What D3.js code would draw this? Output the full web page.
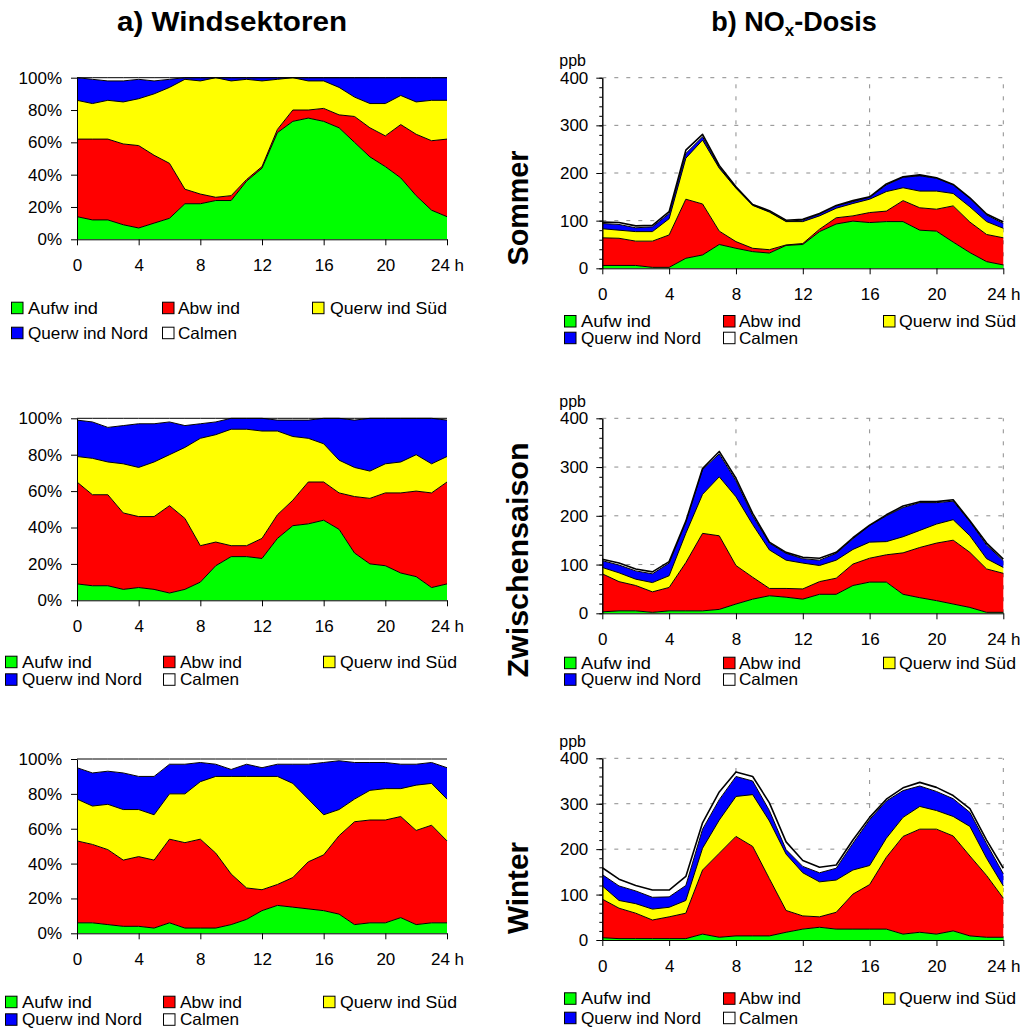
<!DOCTYPE html>
<html>
<head>
<meta charset="utf-8">
<script src="https://cdn.jsdelivr.net/npm/d3@7"></script>
<style>
  body { margin: 0; background: #fff; }
  svg { display: block; }
</style>
</head>
<body>
<svg id="chart" width="1032" height="1028"></svg>
<script>
// ---- categories and labels ----
const hours = [0,1,2,3,4,5,6,7,8,9,10,11,12,13,14,15,16,17,18,19,20,21,22,23,24];
const hourTicks = [0,4,8,12,16,20,24];
const pctTicks = [0,0.2,0.4,0.6,0.8,1];
const ppbTicks = [0,100,200,300,400];
const ppbMinorTicks = [0,20,40,60,80,100,120,140,160,180,200,220,240,260,280,300,320,340,360,380,400];
const seriesNames = ["Aufw ind","Abw ind","Querw ind Süd","Querw ind Nord","Calmen"];
const seriesColors = ["#00ff00","#ff0000","#ffff00","#0000ff","#ffffff"];
const seasonNames = ["Sommer","Zwischensaison","Winter"];

// ---- a) wind sector shares (%) ----
const windSommerAuf    = [14,12,12,9,7,10,13,22,22,24,24,36,44,66,73,75,73,69,60,51,45,38,27,18,14];
const windSommerAbw    = [48,50,50,50,51,42,34,9,6,2,3,1,1,2,7,5,8,8,16,18,19,33,38,43,48];
const windSommerSued   = [24,22,24,26,29,38,47,68,70,74,71,62,53,31,20,18,17,17,12,15,20,18,20,25,24];
const windSommerNord   = [14,15,12,13,12,8,5,1,2,0,2,1,2,1,0,2,2,6,12,16,16,11,15,14,14];
const windSommerCalm   = [0,1,2,2,1,2,1,0,0,0,0,0,0,0,0,0,0,0,0,0,0,0,0,0,0];

const windZwAuf        = [9,8,8,6,7,6,4,6,10,19,24,24,23,34,41,42,44,39,26,20,19,15,13,7,9];
const windZwAbw        = [56,50,50,42,39,40,48,39,20,13,6,6,11,13,14,23,21,20,31,36,40,44,47,52,56];
const windZwSued       = [14,20,18,27,27,30,28,39,59,59,64,64,59,46,35,24,21,18,16,15,16,17,20,16,14];
const windZwNord       = [20,20,19,21,24,21,18,12,8,7,6,6,7,6,9,10,14,23,26,29,25,24,20,25,20];
const windZwCalm       = [1,2,5,4,3,3,2,4,3,2,0,0,0,1,1,1,0,0,1,0,0,0,0,0,1];

const windWinterAuf    = [6,6,5,4,4,3,6,3,3,3,5,8,13,16,15,14,13,11,5,6,6,9,5,6,6];
const windWinterAbw    = [47,45,43,38,40,39,48,49,51,43,29,18,12,12,17,27,32,45,59,59,59,58,54,56,47];
const windWinterSued   = [24,22,26,29,27,26,26,28,33,44,56,64,65,62,54,36,23,15,13,17,18,16,26,24,24];
const windWinterNord   = [18,19,19,21,19,22,17,17,11,7,4,7,5,7,11,20,30,28,21,16,15,14,12,12,18];
const windWinterCalm   = [5,8,7,8,10,10,3,3,2,3,6,3,5,3,3,3,2,1,2,2,2,3,3,2,5];

// ---- b) NOx dose per wind sector (ppb) ----
const noxSommerAuf     = [6,6,6,2,2,21,28,50,42,35,32,48,50,77,93,99,96,98,98,80,78,55,33,14,7];
const noxSommerAbw     = [58,57,51,55,68,124,107,28,14,7,7,1,2,5,13,11,21,22,44,47,46,76,64,57,57];
const noxSommerSued    = [19,17,20,20,34,86,134,132,112,90,79,49,46,28,20,26,28,41,27,35,38,26,32,27,20];
const noxSommerNord    = [11,12,8,10,11,10,7,3,1,1,1,1,3,4,5,4,4,14,22,32,27,18,18,14,10];
const noxSommerCalm    = [3,4,4,3,4,7,5,3,2,1,2,2,2,1,1,2,1,2,1,2,1,1,1,2,3];

const noxZwAuf         = [3,5,5,2,5,5,5,8,19,29,36,33,29,39,39,57,64,64,39,32,26,19,12,2,2];
const noxZwAbw         = [78,60,52,42,48,99,159,151,79,45,15,18,21,26,33,44,49,56,85,103,118,131,113,89,80];
const noxZwSued        = [13,18,13,19,24,60,80,121,141,108,79,58,53,33,37,30,33,27,33,35,39,42,34,21,12];
const noxZwNord        = [14,16,17,18,26,23,51,47,33,18,14,14,9,11,14,22,34,53,60,57,44,38,29,28,14];
const noxZwCalm        = [3,4,4,4,3,2,2,5,5,5,2,2,3,4,2,2,1,2,3,2,2,3,2,4,3];

const noxWinterAuf     = [5,3,3,3,3,3,13,6,9,9,9,17,24,28,24,24,24,24,13,17,13,20,9,6,6];
const noxWinterAbw     = [85,67,56,41,48,56,141,185,219,197,126,48,29,23,37,77,98,158,215,227,231,209,176,136,86];
const noxWinterSued    = [29,17,21,24,21,28,48,73,88,114,127,124,95,77,71,53,42,42,42,50,41,43,65,38,27];
const noxWinterNord    = [25,32,28,26,23,33,42,45,44,30,23,10,14,20,26,59,101,82,59,45,42,39,31,32,27];
const noxWinterCalm    = [15,15,12,16,15,20,14,17,10,10,17,17,13,12,7,7,5,4,6,8,9,7,8,8,12];

// ---- drawing ----
const FONT = "'Liberation Sans', Arial, Helvetica, sans-serif";
const svg = d3.select("#chart");
svg.append("rect").attr("width",1032).attr("height",1028).attr("fill","#fff");

function toRows(series) {
  return hours.map((h, i) => {
    const r = { hour: h };
    seriesNames.forEach((n, k) => { r[n] = series[k][i]; });
    return r;
  });
}

function styleAxis(g) {
  g.attr("font-family", FONT).attr("font-size", 17);
  g.selectAll("text").attr("fill", "#000");
  g.selectAll("line,path").attr("stroke", "#000");
}

function drawPanel(p) {
  const x = d3.scaleLinear().domain([0, 24]).range([p.left, p.right]);
  const y = d3.scaleLinear().domain(p.percent ? [0, 1] : [0, 400]).range([p.bottom, p.top]);
  const stack = d3.stack().keys(seriesNames)
    .offset(p.percent ? d3.stackOffsetExpand : d3.stackOffsetNone);
  const layers = stack(toRows(p.series));
  const g = svg.append("g");

  if (!p.percent) {
    // dashed grid
    g.append("g").selectAll("line").data(ppbTicks.slice(1)).join("line")
      .attr("x1", p.left).attr("x2", p.right)
      .attr("y1", d => y(d)).attr("y2", d => y(d))
      .attr("stroke", "#8c8c8c").attr("stroke-width", 1).attr("stroke-dasharray", "4,8");
    g.append("g").selectAll("line").data([8, 16, 24]).join("line")
      .attr("x1", d => x(d)).attr("x2", d => x(d))
      .attr("y1", p.bottom).attr("y2", p.top)
      .attr("stroke", "#8c8c8c").attr("stroke-width", 1).attr("stroke-dasharray", "4,8");
  }

  const area = d3.area().x(d => x(d.data.hour)).y0(d => y(d[0])).y1(d => y(d[1]));
  const edge = d3.line().x(d => x(d.data.hour)).y(d => y(d[1]));

  g.append("g").selectAll("path").data(layers).join("path")
    .attr("d", area).attr("fill", (d, i) => seriesColors[i]);
  g.append("g").selectAll("path").data(layers).join("path")
    .attr("d", edge).attr("fill", "none")
    .attr("stroke", "#000").attr("stroke-width", (d, i) => (!p.percent && i === 4) ? 1.6 : 1)
    .attr("stroke-linejoin", "round");

  // y axis
  if (p.percent) {
    const ya = g.append("g").attr("transform", `translate(${p.left},0)`)
      .call(d3.axisLeft(y).tickValues(pctTicks).tickFormat(d3.format(".0%"))
        .tickSize(6).tickSizeOuter(0).tickPadding(9));
    styleAxis(ya);
  } else {
    const ym = g.append("g").attr("transform", `translate(${p.left},0)`)
      .call(d3.axisLeft(y).tickValues(ppbMinorTicks).tickFormat("").tickSize(3).tickSizeOuter(0));
    styleAxis(ym);
    const ya = g.append("g").attr("transform", `translate(${p.left},0)`)
      .call(d3.axisLeft(y).tickValues(ppbTicks).tickSize(6).tickSizeOuter(0).tickPadding(8));
    styleAxis(ya);
    g.append("text").attr("x", p.left - 43).attr("y", p.top - 17)
      .attr("font-family", FONT).attr("font-size", 16).attr("dominant-baseline", "central")
      .text("ppb");
  }

  // x axis
  const xa = g.append("g").attr("transform", `translate(0,${p.bottom})`)
    .call(d3.axisBottom(x).tickValues(hourTicks)
      .tickFormat(d => d === 24 ? "24 h" : String(d))
      .tickSize(6).tickSizeOuter(0).tickPadding(14));
  styleAxis(xa);

  // legend
  const lg = g.append("g").attr("font-family", FONT).attr("font-size", 16.5);
  seriesNames.forEach((name, i) => {
    const col = i < 3 ? i : i - 3;
    const row = i < 3 ? 0 : 1;
    const cy = p.legendRows[row];
    lg.append("rect")
      .attr("x", p.legendBoxX[col] + 0.5).attr("y", cy - 5.5)
      .attr("width", 11.5).attr("height", 11.5)
      .attr("fill", seriesColors[i]).attr("stroke", "#000").attr("stroke-width", 1);
    lg.append("text")
      .attr("x", p.legendTextX[col]).attr("y", cy)
      .attr("dominant-baseline", "central")
      .attr("textLength", p.legendWidths[i]).attr("lengthAdjust", "spacingAndGlyphs")
      .text(name);
  });
}

const legendWidths = [70, 62, 117, 120, 59];
const windLegendA = { legendBoxX: [11, 162, 312], legendTextX: [28, 178, 330], legendWidths };
const windLegendB = { legendBoxX: [5, 163, 323], legendTextX: [22, 180, 340], legendWidths };
const noxLegend = { legendBoxX: [564, 723, 883], legendTextX: [581, 739, 899], legendWidths };

drawPanel(Object.assign({ percent: true, left: 77, right: 447, top: 77.7, bottom: 239.3,
  legendRows: [307.7, 332.7],
  series: [windSommerAuf, windSommerAbw, windSommerSued, windSommerNord, windSommerCalm] }, windLegendA));
drawPanel(Object.assign({ percent: true, left: 77, right: 447, top: 418.3, bottom: 600.3,
  legendRows: [661.7, 679.3],
  series: [windZwAuf, windZwAbw, windZwSued, windZwNord, windZwCalm] }, windLegendB));
drawPanel(Object.assign({ percent: true, left: 77, right: 447, top: 759, bottom: 933.3,
  legendRows: [1001.7, 1019.3],
  series: [windWinterAuf, windWinterAbw, windWinterSued, windWinterNord, windWinterCalm] }, windLegendB));

drawPanel(Object.assign({ percent: false, left: 602.3, right: 1003.3, top: 77.7, bottom: 268.3,
  legendRows: [321, 337.7],
  series: [noxSommerAuf, noxSommerAbw, noxSommerSued, noxSommerNord, noxSommerCalm] }, noxLegend));
drawPanel(Object.assign({ percent: false, left: 602.3, right: 1003.3, top: 418.3, bottom: 613.3,
  legendRows: [662.7, 679.3],
  series: [noxZwAuf, noxZwAbw, noxZwSued, noxZwNord, noxZwCalm] }, noxLegend));
drawPanel(Object.assign({ percent: false, left: 602.3, right: 1003.3, top: 758.3, bottom: 940,
  legendRows: [998.3, 1017.7],
  series: [noxWinterAuf, noxWinterAbw, noxWinterSued, noxWinterNord, noxWinterCalm] }, noxLegend));

// column titles
svg.append("text").attr("x", 232).attr("y", 31)
  .attr("font-family", FONT).attr("font-weight", "bold").attr("font-size", 27)
  .attr("text-anchor", "middle").attr("textLength", 230).attr("lengthAdjust", "spacingAndGlyphs")
  .text("a) Windsektoren");
const tb = svg.append("text").attr("x", 794).attr("y", 31)
  .attr("font-family", FONT).attr("font-weight", "bold").attr("font-size", 27)
  .attr("text-anchor", "middle");
tb.append("tspan").text("b) NO");
tb.append("tspan").attr("font-size", 17).attr("dy", 5).text("x");
tb.append("tspan").attr("dy", -5).text("-Dosis");

// season row labels
const seasonCenters = [208, 560, 888];
const seasonLengths = [115, 235, 92];
seasonNames.forEach((s, i) => {
  svg.append("text")
    .attr("transform", `translate(518,${seasonCenters[i]}) rotate(-90)`)
    .attr("font-family", FONT).attr("font-weight", "bold").attr("font-size", 29)
    .attr("text-anchor", "middle").attr("dominant-baseline", "central")
    .attr("textLength", seasonLengths[i]).attr("lengthAdjust", "spacingAndGlyphs")
    .text(s);
});
</script>
</body>
</html>
